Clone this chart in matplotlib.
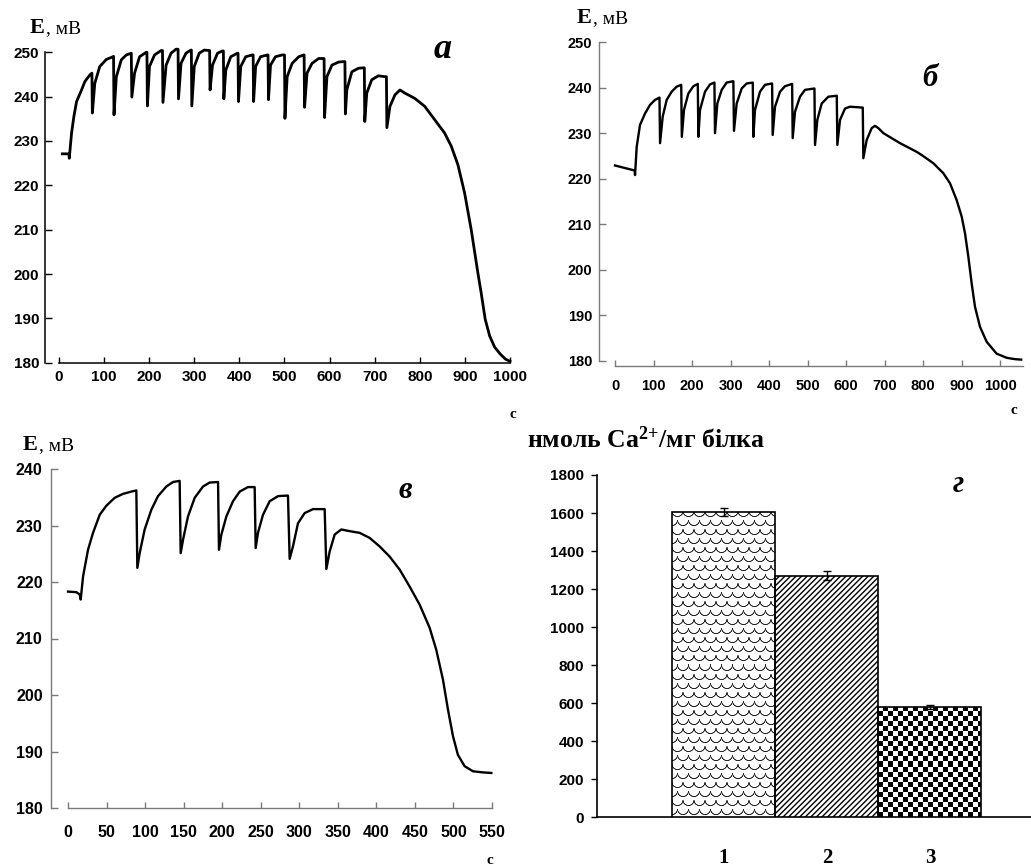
import numpy as np
import matplotlib
matplotlib.use("Agg")
import matplotlib.pyplot as plt

plt.rcParams['mathtext.fontset'] = 'custom'
plt.rcParams['mathtext.rm'] = 'Liberation Serif:bold'
plt.rcParams['mathtext.it'] = 'Liberation Serif:bold'
plt.rcParams['mathtext.bf'] = 'Liberation Serif:bold'
plt.rcParams['hatch.linewidth'] = 1.0

# ---------------- data ----------------
# panel а
a_t = [7.4, 22.0, 22.8, 27.9, 33.0, 39.0, 50.0, 57.4, 68.4, 73.0,
       74.0, 79.4, 90.4, 105.1, 119.9, 121.0,
       122.0, 127.2, 138.2, 149.3, 160.3,
       161.5, 167.6, 178.7, 193.4, 195.0,
       196.0, 200.7, 211.8, 226.5, 229.5,
       230.5, 237.5, 248.5, 259.6, 264.0,
       265.0, 270.6, 281.6, 292.6, 293.5,
       294.5, 300.0, 311.0, 322.1, 333.1, 334.0,
       335.0, 340.4, 351.5, 362.5, 364.5,
       365.5, 369.9, 380.9, 395.6, 397.0,
       398.0, 403.0, 414.0, 428.7, 430.5,
       431.5, 436.0, 447.0, 461.8, 463.5,
       464.5, 469.0, 480.0, 494.9, 500.0,
       501.0, 505.9, 516.9, 531.6, 542.6, 543.5,
       544.5, 550.0, 561.0, 575.7, 586.8, 587.8,
       588.8, 594.1, 605.1, 619.9, 630.9, 634.0,
       635.0, 638.2, 649.3, 664.0, 675.0, 677.0,
       678.0, 682.4, 693.4, 708.1, 722.8, 726.0,
       727.0, 733.8, 744.9, 755.9, 766.9, 789.0, 811.0, 833.0, 855.0, 869.9,
       884.6, 899.3, 914.0, 928.7, 936.0, 945.0, 955.0, 966.0, 978.0, 990.0, 1000.0]
a_E = [227.1, 227.1, 226.1, 231.8, 235.5, 238.9, 241.5, 243.4, 244.9, 245.3,
       236.3, 243.0, 246.8, 248.4, 249.0, 249.1,
       235.9, 244.5, 248.3, 249.4, 249.8,
       239.9, 245.3, 249.0, 250.0, 250.0,
       237.9, 246.8, 249.4, 250.4, 250.4,
       238.7, 247.1, 249.8, 250.7, 250.7,
       239.5, 247.5, 249.8, 250.5, 250.5,
       237.9, 246.8, 249.8, 250.5, 250.4, 250.4,
       241.5, 247.1, 249.8, 250.3, 250.3,
       239.5, 246.0, 249.0, 249.8, 249.8,
       238.9, 246.8, 249.0, 249.4, 249.4,
       238.9, 246.8, 249.0, 249.4, 249.4,
       239.3, 247.1, 249.0, 249.4, 249.4,
       235.1, 244.5, 247.5, 249.0, 249.4, 249.4,
       237.6, 245.3, 247.5, 248.6, 248.6, 248.6,
       235.3, 244.5, 247.1, 247.8, 247.9, 247.9,
       236.1, 241.5, 245.6, 246.4, 246.5, 246.5,
       234.4, 240.8, 243.8, 244.7, 244.5, 244.5,
       233.0, 237.8, 240.4, 241.5, 240.8, 239.6, 237.8, 234.8, 231.8, 228.8,
       224.6, 218.3, 210.0, 200.3, 195.8, 189.8, 186.0, 183.5, 182.0, 180.8, 180.3]

# panel б
b_t = [0.0, 51.0, 52.0, 56.3, 64.9, 77.9, 90.9, 103.9, 115.5,
       117.0, 123.8, 134.2, 147.2, 160.2, 172.0,
       173.5, 179.2, 190.5, 203.5, 215.0,
       216.5, 220.8, 233.8, 246.8, 258.2,
       259.7, 265.8, 277.1, 290.0, 307.4,
       309.0, 316.0, 329.0, 342.0, 357.8,
       359.3, 363.6, 376.6, 389.6, 408.0,
       409.5, 415.6, 428.6, 441.6, 460.0,
       461.5, 467.5, 480.5, 493.5, 518.0,
       519.5, 525.5, 536.8, 554.1, 576.0,
       577.5, 584.4, 597.4, 610.4, 627.7, 643.5,
       645.0, 653.7, 666.7, 675.3, 684.0, 697.0, 740.3, 783.5, 796.5, 826.8,
       852.8, 870.1, 887.4, 900.4, 909.1, 917.7, 926.4, 935.0, 948.0, 965.4,
       991.3, 1017.3, 1039.0, 1055.0]
b_E = [222.9, 221.8, 220.8, 227.0, 231.8, 234.3, 236.2, 237.3, 237.8,
       227.8, 233.6, 237.3, 239.1, 240.2, 240.6,
       229.2, 235.1, 238.7, 240.3, 240.8,
       229.2, 235.1, 239.1, 240.7, 241.1,
       230.0, 236.5, 239.5, 241.1, 241.4,
       230.5, 236.5, 239.8, 240.9, 241.1,
       229.2, 235.1, 239.1, 240.6, 240.9,
       229.6, 235.8, 239.1, 240.3, 240.8,
       228.9, 234.7, 238.0, 239.5, 239.8,
       227.4, 232.9, 236.5, 238.0, 238.2,
       227.4, 232.9, 235.4, 235.8, 235.7, 235.6,
       224.5, 228.5, 231.1, 231.6, 231.1, 230.0, 227.8, 225.9, 225.2, 223.4,
       221.2, 219.0, 215.3, 211.7, 208.0, 202.9, 197.0, 191.9, 187.5, 184.2,
       181.6, 180.7, 180.4, 180.3]

# panel в
v_t = [0.0, 10.8, 15.1, 16.4, 19.5, 25.9, 32.4, 41.1, 49.7, 60.5, 71.3, 82.1, 88.6,
       89.9, 92.9, 99.4, 108.1, 116.7, 127.5, 136.2, 144.8,
       146.1, 149.2, 155.6, 164.3, 175.1, 183.7, 194.6,
       195.8, 198.9, 205.4, 214.0, 222.7, 233.5, 242.1,
       243.4, 246.4, 252.9, 261.6, 272.4, 285.3,
       287.5, 291.8, 298.3, 307.0, 317.8, 332.9,
       335.1, 339.4, 345.9, 354.5, 365.3, 378.3, 391.3, 404.2, 417.2, 430.2,
       443.1, 456.1, 469.1, 477.7, 486.4, 492.9, 499.4, 505.8, 514.5, 525.3, 538.3, 549.1]
v_E = [218.3, 218.2, 217.8, 216.9, 221.0, 225.7, 228.7, 231.9, 233.5, 234.9, 235.6, 236.0, 236.2,
       222.5, 225.1, 229.3, 232.8, 235.2, 236.9, 237.7, 237.9,
       225.1, 227.5, 231.6, 234.9, 236.9, 237.6, 237.7,
       225.7, 228.4, 231.6, 234.3, 236.0, 236.8, 236.8,
       226.0, 228.7, 231.9, 234.3, 235.2, 235.3,
       224.1, 226.3, 230.4, 232.2, 232.9, 232.9,
       222.3, 225.4, 228.4, 229.3, 229.0, 228.7, 227.8, 226.3, 224.5, 222.2,
       219.2, 216.0, 211.9, 208.0, 202.7, 197.4, 192.7, 189.4, 187.4, 186.5, 186.3, 186.2]

# panel г
g_categories = ['1', '2', '3']
g_values = [1605, 1270, 580]
g_errors = [20, 24, 10]

a_xticks = list(range(0, 1001, 100))
a_yticks = list(range(180, 251, 10))
b_xticks = list(range(0, 1001, 100))
b_yticks = list(range(180, 251, 10))
v_xticks = list(range(0, 551, 50))
v_yticks = list(range(180, 241, 10))
g_yticks = list(range(0, 1801, 200))

ylabel_E = ("E", ", мВ")
time_unit = "с"
g_ylabel = "нмоль Ca$^{2{+}}$/мг білка"
panel_letters = ["а", "б", "в", "г"]

# ---------------- layout ----------------
W, H = 1031, 867
fig = plt.figure(figsize=(W / 100, H / 100), dpi=100)
SANS = 'Liberation Sans'
SERIF = 'Liberation Serif'


def axes_px(left, top, right, bottom):
    return fig.add_axes([left / W, 1 - bottom / H, (right - left) / W, (bottom - top) / H])


def style(ax, xt, yt, color, lw, xpad, ypad, xb, yb, fs=11):
    for s in ['top', 'right']:
        ax.spines[s].set_visible(False)
    ax.spines['bottom'].set_bounds(*xb)
    ax.spines['left'].set_bounds(*yb)
    for s in ['bottom', 'left']:
        ax.spines[s].set_color(color)
        ax.spines[s].set_linewidth(lw)
    ax.set_xticks(xt)
    ax.set_xticklabels([str(v) for v in xt])
    ax.set_yticks(yt)
    ax.set_yticklabels([str(v) for v in yt])
    ax.tick_params(axis='x', direction='in', length=4, width=1, color=color, pad=xpad)
    ax.tick_params(axis='y', direction='in', length=5, width=1, color=color, pad=ypad)
    for lab in ax.get_xticklabels() + ax.get_yticklabels():
        lab.set_fontfamily(SANS)
        lab.set_fontweight('bold')
        lab.set_fontsize(fs)


def ylabel_E_at(x, y):
    t1 = fig.text(x / W, 1 - y / H, ylabel_E[0], family=SERIF, fontweight='bold',
                  fontsize=16, va='center', ha='left')
    fig.canvas.draw()
    bb = t1.get_window_extent()
    fig.text((bb.x1 + 1) / W, bb.y0 / H + 0.001, ylabel_E[1], family=SERIF,
             fontsize=14, va='bottom', ha='left')


def letter_at(x, y, s, size=22):
    fig.text(x / W, 1 - y / H, s, family=SERIF, fontweight='bold', style='italic',
             fontsize=size, ha='center', va='center')


def unit_at(x, y):
    fig.text(x / W, 1 - y / H, time_unit, family=SERIF, fontweight='bold',
             fontsize=11, ha='center', va='center')


# panel а
ax_a = axes_px(45, 52.3, 510, 362.7)
ax_a.plot(a_t, a_E, color='black', lw=2.0, clip_on=False)
ax_a.set_xlim(-31, 1000)
ax_a.set_ylim(180, 250)
style(ax_a, a_xticks, a_yticks, 'black', 1.1, 5, 4.3, (0, 1000), (180, 250), fs=11)
ylabel_E_at(30, 28)
letter_at(443, 50, panel_letters[0], 26)
unit_at(513, 415)

# panel б
ax_b = axes_px(599, 42, 1023, 366)
ax_b.plot(b_t, b_E, color='black', lw=1.7, clip_on=False)
ax_b.set_xlim(-41.6, 1059.7)
ax_b.set_ylim(178.9, 250)
style(ax_b, b_xticks, b_yticks, '#7a7a7a', 1.0, 9.4, 5, (0, 1059.7), (180, 250), fs=10.5)
ylabel_E_at(577, 18)
letter_at(930, 78, panel_letters[1], 22)
unit_at(1014, 410)

# panel в
ax_v = axes_px(50.7, 469, 492, 808)
ax_v.plot(v_t, v_E, color='black', lw=1.7, clip_on=False)
ax_v.set_xlim(-22.5, 550)
ax_v.set_ylim(180, 240)
style(ax_v, v_xticks, v_yticks, '#7a7a7a', 1.0, 12, 5.8, (0, 550), (180, 240), fs=11.5)
ylabel_E_at(23, 445)
letter_at(405, 490, panel_letters[2], 22)
unit_at(490, 860)

# panel г
ax_g = axes_px(596.7, 475, 1035, 817.3)
xpos = np.arange(1, len(g_categories) + 1)
ax_g.set_xlim(-0.236, 4.02)
ax_g.set_ylim(0, 1800)
bars = ax_g.bar(xpos, g_values, width=1.0, color='white', edgecolor='none', zorder=2)
ax_g.bar(xpos, g_values, width=1.0, fill=False, edgecolor='black', lw=1.2, zorder=4)
ax_g.errorbar(xpos, g_values, yerr=g_errors, fmt='none', ecolor='black',
              elinewidth=1.0, capsize=3, capthick=1.0, zorder=5)


def texture(bar, kind):
    p0 = ax_g.transData.transform((bar.get_x(), bar.get_y()))
    p1 = ax_g.transData.transform((bar.get_x() + bar.get_width(), bar.get_y() + bar.get_height()))
    nx = int(round(p1[0] - p0[0]))
    ny = int(round(p1[1] - p0[1]))
    jj, ii = np.meshgrid(np.arange(nx) + 0.5, np.arange(ny) + 0.5)
    if kind == 'check':
        ink = ((np.floor(jj / 5) + np.floor(ii / 5)) % 2).astype(float)
    else:
        px, py = 11.0, 9.0
        row = np.floor(ii / py)
        off = (row % 2) * px / 2
        lx = ((jj + off) % px) - px / 2
        ly = ii % py
        r = np.sqrt(lx ** 2 + ly ** 2)
        ink = np.clip(1.2 - np.abs(r - px / 2) / 0.7, 0, 1) * (ly <= px / 2 + 0.6)
        ink = np.clip(ink, 0, 0.85)
    img = 1 - ink
    im = ax_g.imshow(img, cmap='gray', vmin=0, vmax=1, interpolation='nearest',
                     extent=(bar.get_x(), bar.get_x() + bar.get_width(),
                             bar.get_y(), bar.get_y() + bar.get_height()),
                     aspect='auto', zorder=3, origin='upper')
    im.set_clip_path(bar)


texture(bars[0], 'scale')
ax_g.bar(xpos[1:2], g_values[1:2], width=1.0, color='white', edgecolor='black',
         hatch='//////', lw=0, zorder=3)
texture(bars[2], 'check')
ax_g.set_xlim(-0.236, 4.02)
ax_g.set_ylim(0, 1800)

for s in ['top', 'right']:
    ax_g.spines[s].set_visible(False)
ax_g.spines['left'].set_bounds(0, 1800)
for s in ['bottom', 'left']:
    ax_g.spines[s].set_linewidth(1.2)
ax_g.set_yticks(g_yticks)
ax_g.set_yticklabels([str(v) for v in g_yticks])
ax_g.tick_params(axis='y', direction='out', length=4, width=1, pad=5)
ax_g.set_xticks(xpos)
ax_g.set_xticklabels(g_categories)
ax_g.tick_params(axis='x', length=0, pad=22)
for lab in ax_g.get_yticklabels():
    lab.set_fontfamily(SANS)
    lab.set_fontweight('bold')
    lab.set_fontsize(11)
for lab in ax_g.get_xticklabels():
    lab.set_fontfamily(SERIF)
    lab.set_fontweight('bold')
    lab.set_fontsize(15)
fig.text(527 / W, 1 - 440 / H, g_ylabel, family=SERIF, fontweight='bold',
         fontsize=18.5, ha='left', va='center')
letter_at(958, 485, panel_letters[3], 22)

fig.savefig("out.png", dpi=100)
